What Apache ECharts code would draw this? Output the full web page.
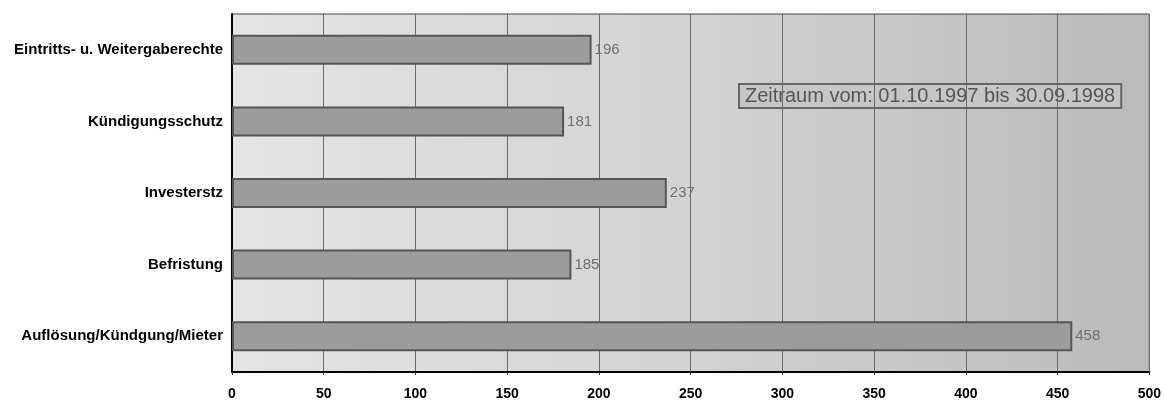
<!DOCTYPE html>
<html>
<head>
<meta charset="utf-8">
<script src="https://cdn.jsdelivr.net/npm/echarts@6/dist/echarts.min.js"></script>
<style>
  html, body { margin: 0; padding: 0; background: #fff; }
  #bar { width: 1164px; height: 403px; }
</style>
</head>
<body>
<div id="bar"></div>
<script>
// Kategorien von unten nach oben (ECharts zeichnet category-y von unten)
var categories = ['Auflösung/Kündgung/Mieter', 'Befristung', 'Investerstz', 'Kündigungsschutz', 'Eintritts- u. Weitergaberechte'];
var values = [458, 185, 237, 181, 196];
var xTicks = [0, 50, 100, 150, 200, 250, 300, 350, 400, 450, 500];
var noteText = 'Zeitraum vom: 01.10.1997 bis 30.09.1998';

var myChart = echarts.init(document.getElementById('bar'));

var option = {
    animation: false,
    grid: {
        left: 232,
        right: 14,
        top: 14,
        bottom: 31,
        show: true,
        borderColor: '#444',
        borderWidth: 1,
        backgroundColor: {
            type: 'linear', x: 0, y: 0, x2: 1, y2: 0,
            colorStops: [
                { offset: 0, color: '#e4e4e4' },
                { offset: 0.5, color: '#d3d3d3' },
                { offset: 1, color: '#bababa' }
            ]
        }
    },
    xAxis: {
        type: 'value',
        min: xTicks[0],
        max: xTicks[xTicks.length - 1],
        interval: 50,
        axisLine: { show: true, lineStyle: { color: '#000', width: 2 } },
        axisTick: { show: true, length: 3, lineStyle: { color: '#333' } },
        axisLabel: {
            color: '#000',
            fontFamily: 'Liberation Sans',
            fontWeight: 'bold',
            fontSize: 14,
            margin: 15
        },
        splitLine: { show: true, lineStyle: { color: '#6a6a6a', width: 1 } }
    },
    yAxis: {
        type: 'category',
        data: categories,
        axisLine: { show: true, lineStyle: { color: '#000', width: 2 } },
        axisTick: { show: false },
        axisLabel: {
            color: '#000',
            fontFamily: 'Liberation Sans',
            fontWeight: 'bold',
            fontSize: 15,
            margin: 9
        }
    },
    series: [{
        name: 'Anzahl',
        type: 'bar',
        data: values,
        barWidth: 30,
        itemStyle: {
            color: '#9c9c9c',
            borderColor: '#555',
            borderWidth: 2
        },
        label: {
            show: true,
            position: 'right',
            distance: 3,
            color: '#707070',
            fontFamily: 'Liberation Sans',
            fontSize: 15
        }
    }],
    graphic: [{
        type: 'text',
        left: 738,
        top: 83,
        style: {
            text: noteText,
            fill: '#555',
            font: '20px "Liberation Sans"',
            backgroundColor: '#c6c6c6',
            borderColor: '#666',
            borderWidth: 2,
            padding: [1, 5, 1, 5]
        }
    }]
};

myChart.setOption(option);
</script>
</body>
</html>
